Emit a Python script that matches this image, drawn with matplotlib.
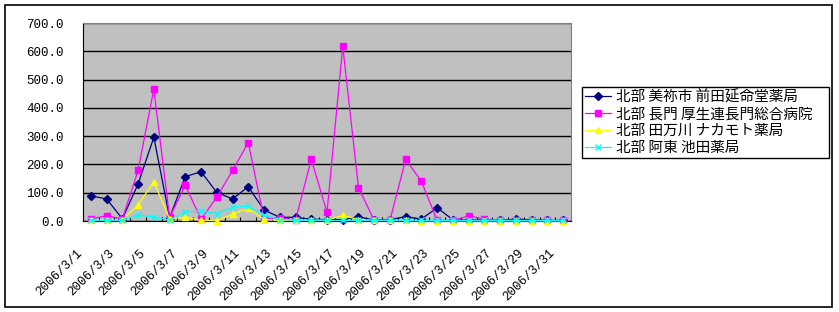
import matplotlib.pyplot as plt
from matplotlib.patches import Rectangle
from matplotlib.transforms import ScaledTranslation

# daily values, 2006/3/1 .. 2006/3/31
dates = ['2006/3/%d' % d for d in range(1, 32)]

maeda = [89, 78, 8, 131, 296, 12, 157, 174, 101, 78, 121, 39, 13, 13, 6, 5,
         5, 15, 3, 5, 15, 7, 47, 4, 3, 4, 2, 7, 4, 2, 2]
nagato = [7, 19, 7, 179, 466, 13, 126, 6, 84, 179, 277, 8, 12, 3, 218, 31,
          618, 118, 2, 3, 218, 140, 2, 2, 18, 7, 3, 2, 2, 2, 2]
nakamoto = [3, 2, 3, 57, 139, 7, 14, 2, 1, 24, 45, 6, 2, 3, 3, 3,
            20, 5, 2, 2, 2, 1, 1, 1, 1, 1, 1, 1, 1, 1, 1]
ikeda = [2, 2, 2, 21, 14, 3, 32, 35, 26, 49, 52, 21, 5, 2, 2, 2,
         2, 2, 2, 2, 2, 2, 2, 2, 2, 2, 2, 2, 2, 2, 2]

labels = ['北部 美祢市 前田延命堂薬局',
          '北部 長門 厚生連長門総合病院',
          '北部 田万川 ナカモト薬局',
          '北部 阿東 池田薬局']
colors = ['#000080', '#FF00FF', '#FFFF00', '#00FFFF']
markers = ['D', 's', '^', 'x']
msizes = [4, 5, 5, 5]

plt.rcParams['font.family'] = ['Liberation Mono', 'Noto Sans CJK JP']

fig = plt.figure(figsize=(8.39, 3.12), dpi=100)
fig.patches.append(Rectangle((5 / 839, 1 - 307 / 312), 827 / 839, 302 / 312,
                             transform=fig.transFigure, fill=False,
                             edgecolor='black', linewidth=1.2))

ax = fig.add_axes([83 / 839, 1 - 221 / 312, 488 / 839, 198 / 312])
ax.set_facecolor('#C0C0C0')

x = list(range(len(dates)))
for series, lab, c, m, ms in zip([maeda, nagato, nakamoto, ikeda], labels, colors, markers, msizes):
    ax.plot(x, series, color=c, marker=m, markersize=ms, markerfacecolor=c,
            markeredgecolor=c, linewidth=0.9, label=lab, clip_on=False, zorder=3)

ax.set_xlim(-0.5, len(dates) - 0.5)
ax.set_ylim(0, 700)
ax.set_yticks(range(0, 701, 100))
ax.set_yticklabels(['%.1f' % v for v in range(0, 701, 100)], fontsize=9)
ax.tick_params(axis='y', length=0, pad=14)
ax.yaxis.grid(True, color='black', linewidth=1)
ax.set_axisbelow(True)

# date labels every 2 days, ticks at every category boundary
ax.set_xticks(x[::2])
ax.set_xticklabels(dates[::2], rotation=45, ha='right', va='top', fontsize=9)
ax.set_xticks([i - 0.5 for i in range(len(dates) + 1)], minor=True)
ax.tick_params(axis='x', which='major', length=0, pad=19)
ax.tick_params(axis='x', which='minor', direction='in', length=3, width=0.8)
for lbl in ax.get_xticklabels():
    lbl.set_transform(lbl.get_transform() + ScaledTranslation(-0.06, 0, fig.dpi_scale_trans))

for s in ['top', 'right']:
    ax.spines[s].set_color('#808080')
for s in ['left', 'bottom']:
    ax.spines[s].set_color('black')

leg = fig.legend(loc='upper left',
                 bbox_to_anchor=(582 / 839, 1 - 158 / 312, 247 / 839, 71 / 312),
                 mode='expand', borderaxespad=0, fancybox=False, edgecolor='black',
                 framealpha=1, prop={'family': ['Noto Sans CJK JP'], 'size': 10.5},
                 handlelength=1.8, handletextpad=0.35, labelspacing=0.2,
                 borderpad=0.2)
leg.get_frame().set_linewidth(1)

plt.savefig('out.png', dpi=100)
plt.close()
